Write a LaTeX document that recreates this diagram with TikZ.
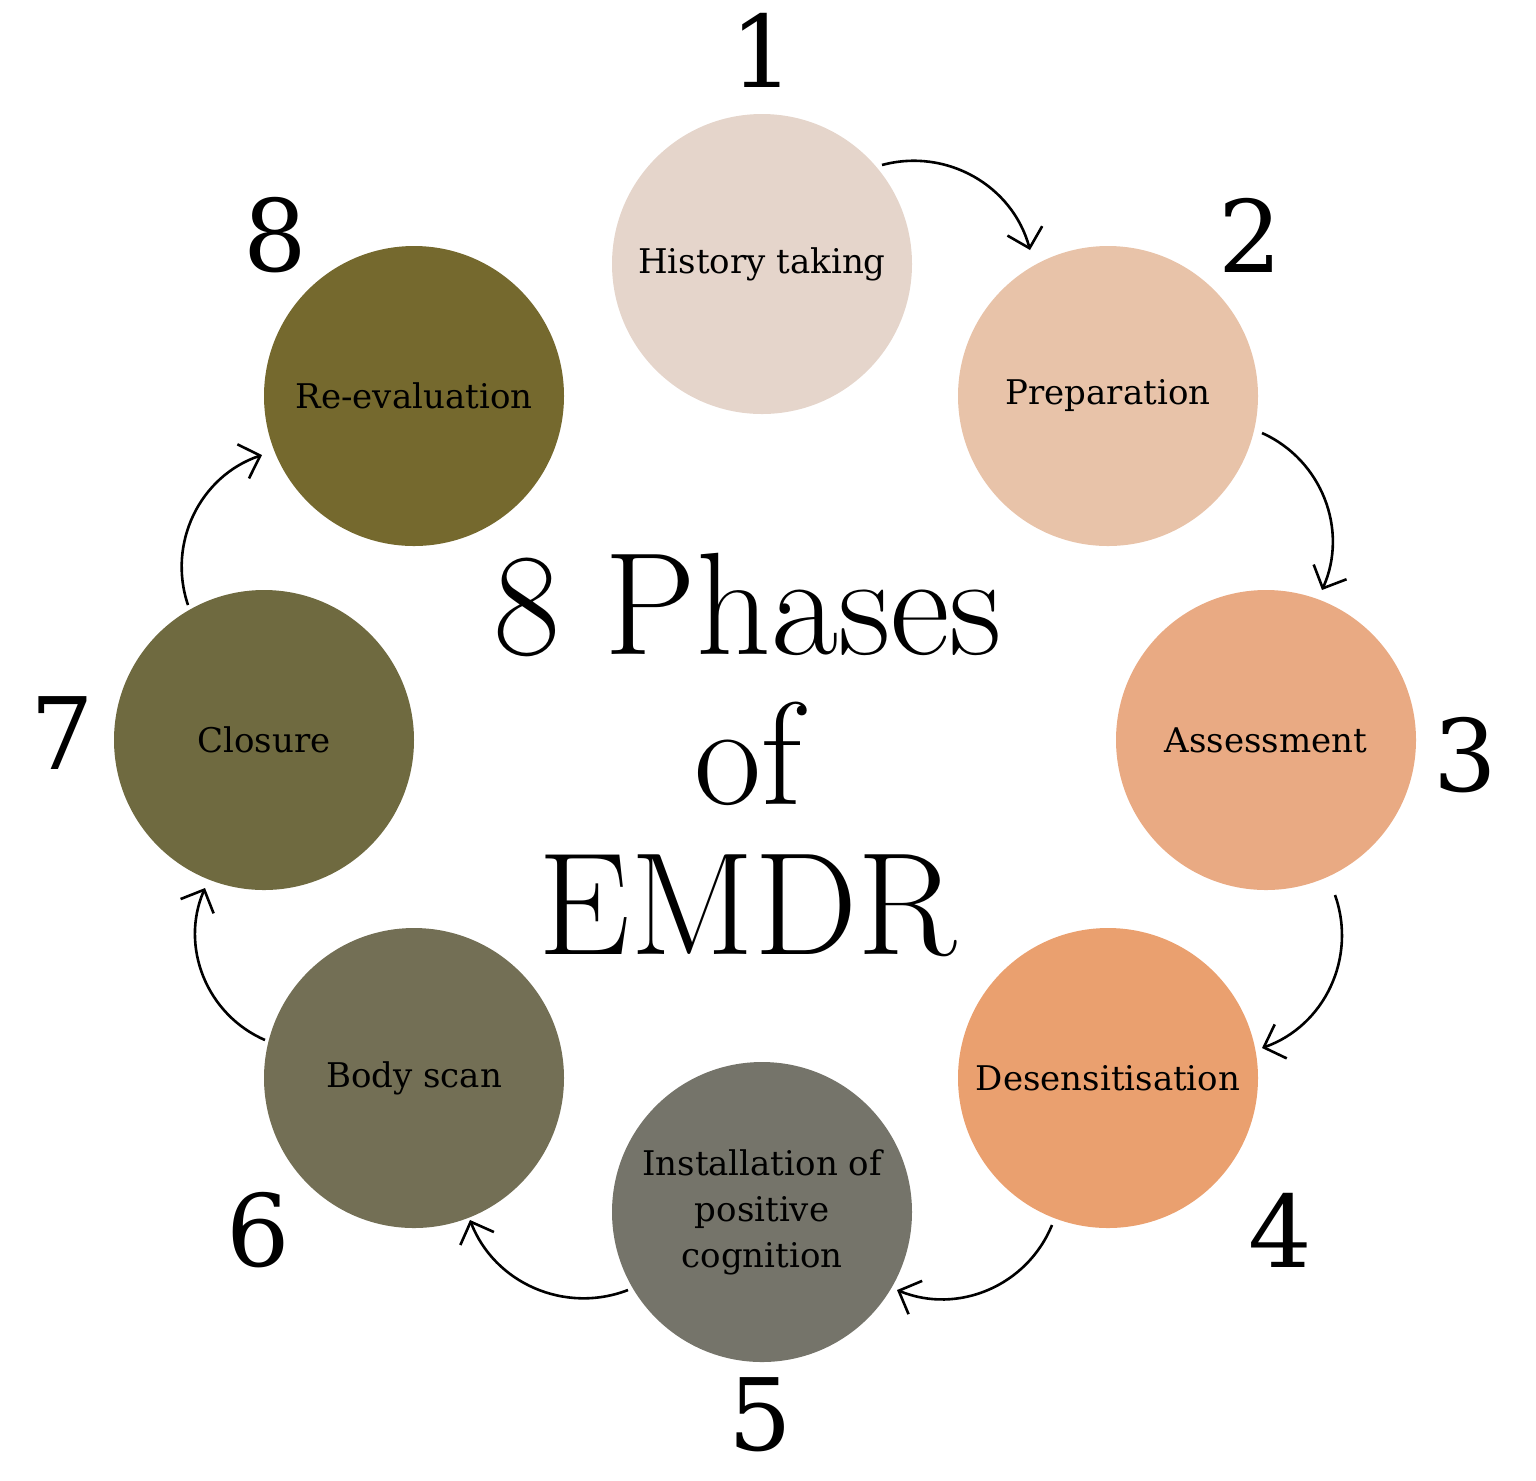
\documentclass[tikz,border=0pt]{standalone}
\usepackage{fontspec}
\newfontfamily\lbl{DejaVu Serif}
\usetikzlibrary{arrows.meta}
\definecolor{c1}{HTML}{E5D5CB}
\definecolor{c2}{HTML}{E8C3A9}
\definecolor{c3}{HTML}{E9AA83}
\definecolor{c4}{HTML}{EAA06F}
\definecolor{c5}{HTML}{75746A}
\definecolor{c6}{HTML}{736F55}
\definecolor{c7}{HTML}{6F6A40}
\definecolor{c8}{HTML}{75692E}
\begin{document}
\begin{tikzpicture}[x=0.5pt,y=-0.5pt,
  phase/.style={circle,minimum size=150pt,inner sep=0pt,align=center,font=\lbl\fontsize{17}{23}\selectfont},
  num/.style={font=\lbl\fontsize{50}{54}\selectfont},
  arr/.style={line width=1.3pt,-{Straight Barb[length=9pt,width=18pt,line width=1.3pt]},bend left=45}]
\useasboundingbox (0,0) rectangle (1536,1480);
\node[phase,fill=c1] (p1) at (762,264) {History taking};
\node[phase,fill=c2] (p2) at (1108,396) {Preparation};
\node[phase,fill=c3] (p3) at (1266,740) {Assessment};
\node[phase,fill=c4] (p4) at (1108,1078) {Desensitisation};
\node[phase,fill=c5] (p5) at (762,1212) {Installation of\\positive\\cognition};
\node[phase,fill=c6] (p6) at (414,1078) {Body scan};
\node[phase,fill=c7] (p7) at (264,740) {Closure};
\node[phase,fill=c8] (p8) at (414,396) {Re-evaluation};
\node[num] (n1) at (762,50) {1};
\node[num] (n2) at (1250,235) {2};
\node[num] (n3) at (1465,755) {3};
\node[num] (n4) at (1280,1230) {4};
\node[num] (n5) at (760,1415) {5};
\node[num] (n6) at (258,1230) {6};
\node[num] (n7) at (62,733) {7};
\node[num] (n8) at (275,235) {8};
\node[align=center,font=\fontsize{73}{75}\selectfont] (title) at (748,755) {8 Phases\\of\\EMDR};
\coordinate (a1) at (882,165); \coordinate (b1) at (1030,250);
\coordinate (a2) at (1262,433); \coordinate (b2) at (1322,590);
\coordinate (a3) at (1335,895); \coordinate (b3) at (1262,1048);
\coordinate (a4) at (1052,1225); \coordinate (b4) at (897,1290);
\coordinate (a5) at (628,1290); \coordinate (b5) at (470,1220);
\coordinate (a6) at (265,1040); \coordinate (b6) at (205,888);
\coordinate (a7) at (188,605); \coordinate (b7) at (262,455);
\foreach \i in {1,...,7} \draw[arr] (a\i) to (b\i);
\end{tikzpicture}
\end{document}
